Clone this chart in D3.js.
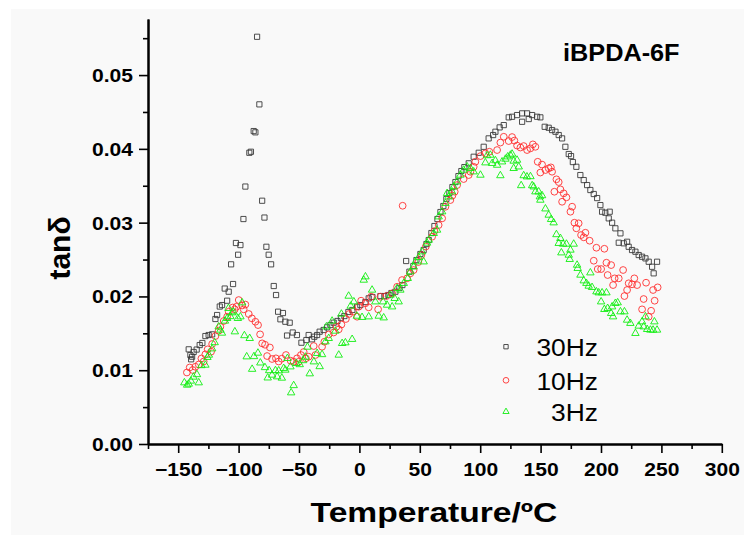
<!DOCTYPE html>
<html>
<head>
<meta charset="utf-8">
<script src="https://cdn.jsdelivr.net/npm/d3@7"></script>
<style>
  html, body { margin: 0; padding: 0; background: #fff; }
  svg text { font-family: "Liberation Sans", Arial, sans-serif; }
</style>
</head>
<body>
<svg id="chart" width="744" height="535"></svg>
<script>
// tan delta vs temperature, [T (ºC), tan δ]
const hz30 = [
  [-141.3,0.01283],[-139.9,0.01206],[-139.3,0.01148],[-138.5,0.01183],[-137.2,0.01247],[-134.7,0.01280],
  [-132.2,0.01341],[-130.0,0.01369],[-127.5,0.01463],[-124.8,0.01477],[-121.9,0.01486],[-119.2,0.01694],
  [-117.8,0.01748],[-115.6,0.01863],[-113.7,0.01883],[-111.5,0.02107],[-109.5,0.01942],[-108.2,0.02064],
  [-106.2,0.02435],[-104.6,0.02168],[-102.2,0.02724],[-100.4,0.02565],[-98.5,0.02696],[-96.0,0.03049],
  [-94.4,0.03489],[-91.1,0.03947],[-89.8,0.03961],[-87.5,0.04241],[-86.1,0.04224],[-84.7,0.05519],
  [-82.8,0.04603],[-80.5,0.03297],[-78.6,0.03069],[-77.0,0.02673],[-75.1,0.02565],[-73.1,0.02435],
  [-70.9,0.02141],[-69.0,0.02019],[-67.3,0.01793],[-65.4,0.01690],[-63.3,0.01775],[-61.3,0.01657],
  [-59.9,0.01470],[-57.7,0.01644],[-55.2,0.01511],[-51.7,0.01477],[-48.0,0.01373],[-43.9,0.01409],
  [-42.0,0.01477],[-39.2,0.01419],[-37.3,0.01454],[-35.0,0.01477],[-32.9,0.01522],[-29.6,0.01545],
  [-26.7,0.01581],[-24.0,0.01612],[-21.3,0.01644],[-18.2,0.01667],[-15.3,0.01707],[-12.4,0.01734],
  [-9.1,0.01789],[-5.8,0.01816],[-1.9,0.01860],[0.8,0.01883],[5.0,0.01924],[7.7,0.01974],
  [10.8,0.01992],[17.4,0.02005],[20.7,0.02005],[24.0,0.02019],[26.5,0.02046],[29.8,0.02064],
  [33.1,0.02114],[35.6,0.02154],[38.7,0.02480],[41.4,0.02335],[44.7,0.02412],[47.2,0.02493],
  [50.5,0.02575],[53.2,0.02629],[55.5,0.02710],[57.4,0.02764],[59.6,0.02859],[62.1,0.02954],
  [64.6,0.03049],[67.1,0.03144],[69.5,0.03225],[72.0,0.03320],[74.5,0.03401],[77.0,0.03482],
  [79.5,0.03550],[82.0,0.03631],[84.4,0.03699],[86.9,0.03753],[90.5,0.03804],[94.6,0.03893],
  [98.8,0.03947],[102.9,0.04028],[107.0,0.04142],[110.7,0.04187],[112.6,0.04232],[116.1,0.04291],
  [119.5,0.04322],[123.6,0.04427],[126.4,0.04435],[130.5,0.04458],[134.7,0.04481],[134.7,0.04367],
  [138.8,0.04481],[140.2,0.04404],[143.0,0.04458],[147.1,0.04435],[149.8,0.04427],[153.4,0.04299],
  [156.7,0.04286],[159.5,0.04255],[162.3,0.04232],[165.0,0.04187],[167.8,0.04142],[170.5,0.04028],
  [173.3,0.03930],[175.2,0.03902],[176.7,0.03821],[179.6,0.03757],[182.9,0.03645],[185.7,0.03577],
  [188.5,0.03509],[191.2,0.03442],[194.0,0.03388],[196.8,0.03333],[199.5,0.03238],[200.9,0.03148],
  [203.6,0.03134],[206.4,0.03058],[207.2,0.03148],[209.2,0.02999],[211.9,0.02923],[214.7,0.02728],
  [216.1,0.02855],[218.8,0.02720],[221.6,0.02741],[222.9,0.02673],[225.7,0.02629],[228.5,0.02606],
  [231.2,0.02561],[234.0,0.02538],[236.8,0.02516],[239.5,0.02470],[242.3,0.02402],[243.6,0.02313],
  [246.4,0.02470]
];

const hz10 = [
  [-142.8,0.00969],[-140.5,0.01037],[-138.0,0.01003],[-135.8,0.01047],[-133.0,0.01077],[-130.8,0.01159],
  [-128.9,0.01118],[-127.5,0.01215],[-125.6,0.01283],[-122.8,0.01251],[-121.9,0.01355],[-119.2,0.01463],
  [-116.5,0.01535],[-115.1,0.01589],[-112.3,0.01667],[-109.5,0.01725],[-108.2,0.01793],[-104.9,0.01850],
  [-103.2,0.01825],[-101.8,0.01860],[-99.9,0.01951],[-97.1,0.01877],[-95.8,0.01825],[-94.4,0.01890],
  [-91.6,0.01762],[-89.0,0.01703],[-86.1,0.01657],[-83.9,0.01612],[-82.2,0.01486],[-80.5,0.01364],
  [-78.1,0.01345],[-76.4,0.01192],[-74.1,0.01308],[-72.3,0.01152],[-69.1,0.01161],[-66.8,0.01118],
  [-64.3,0.01156],[-60.8,0.01206],[-56.9,0.01129],[-54.4,0.01115],[-51.6,0.01161],[-50.2,0.01115],
  [-48.4,0.01206],[-46.1,0.01247],[-44.3,0.01161],[-42.0,0.01183],[-37.8,0.01328],[-36.4,0.01206],
  [-30.9,0.01318],[-29.0,0.01386],[-25.4,0.01484],[-21.3,0.01511],[-19.0,0.01589],[-17.1,0.01554],
  [-14.9,0.01619],[-11.2,0.01694],[-8.5,0.01762],[-5.2,0.01795],[-1.9,0.01725],[-0.6,0.01860],
  [1.4,0.01942],[5.0,0.01907],[7.7,0.01852],[9.7,0.01996],[15.5,0.01825],[17.4,0.01996],
  [22.4,0.02005],[27.1,0.02042],[31.2,0.02131],[35.3,0.02222],[35.8,0.03229],[39.5,0.02245],
  [42.2,0.02313],[44.9,0.02358],[48.8,0.02466],[51.3,0.02561],[55.0,0.02676],[60.2,0.02809],
  [62.1,0.02886],[65.6,0.02967],[68.5,0.03058],[71.2,0.03215],[75.3,0.03306],[77.0,0.03367],
  [78.9,0.03419],[80.9,0.03509],[86.3,0.03591],[90.5,0.03645],[91.9,0.03690],[94.6,0.03757],
  [96.0,0.03825],[100.2,0.03902],[104.3,0.03939],[107.6,0.03961],[114.0,0.03984],[116.7,0.04085],
  [119.5,0.04164],[123.6,0.04106],[126.4,0.04160],[128.3,0.04112],[130.5,0.04045],[133.3,0.04018],
  [136.0,0.04038],[138.8,0.03984],[141.6,0.04007],[143.6,0.04061],[145.7,0.04028],[147.6,0.03825],
  [149.8,0.03679],[151.2,0.03787],[154.0,0.03713],[156.7,0.03736],[158.5,0.03749],[159.5,0.03690],
  [161.4,0.03419],[163.1,0.03587],[165.0,0.03550],[166.4,0.03451],[167.8,0.03283],[169.1,0.03397],
  [171.4,0.03343],[174.7,0.03148],[176.1,0.03216],[178.0,0.02999],[179.6,0.02923],[181.5,0.02991],
  [183.5,0.02832],[185.7,0.02801],[187.1,0.02863],[190.6,0.02755],[194.0,0.02484],[196.2,0.02660],
  [197.3,0.02371],[200.1,0.02371],[202.8,0.02646],[204.5,0.02457],[205.5,0.02290],[208.4,0.02425],
  [210.0,0.02154],[211.3,0.02245],[214.7,0.02245],[218.3,0.02358],[219.4,0.02005],[221.6,0.02087],
  [222.9,0.02178],[225.7,0.02164],[227.6,0.02245],[229.9,0.02154],[234.0,0.01825],[235.3,0.01965],
  [237.3,0.02186],[239.5,0.01725],[241.5,0.01806],[243.1,0.02087],[244.4,0.01942],[246.9,0.02123]
];

const hz3 = [
  [-144.9,0.00831],[-142.6,0.00799],[-141.3,0.00813],[-139.5,0.00854],[-137.4,0.00908],[-134.5,0.00942],
  [-133.0,0.00831],[-130.8,0.01064],[-127.5,0.01070],[-125.8,0.01175],[-124.6,0.01206],[-121.9,0.01291],
  [-119.8,0.01375],[-116.5,0.01589],[-115.1,0.01545],[-113.8,0.01504],[-111.3,0.01667],[-109.5,0.01703],
  [-108.4,0.01839],[-106.8,0.01728],[-105.4,0.01779],[-104.3,0.01793],[-103.1,0.01522],[-100.6,0.01703],
  [-98.5,0.01725],[-97.1,0.01915],[-95.2,0.01470],[-93.3,0.01183],[-90.8,0.01432],[-88.8,0.01014],
  [-87.3,0.01186],[-84.0,0.01233],[-82.0,0.01100],[-78.2,0.01037],[-75.9,0.00897],[-74.7,0.00996],
  [-72.3,0.00935],[-69.5,0.00996],[-68.1,0.00912],[-66.8,0.00993],[-64.2,0.00894],[-62.7,0.01026],
  [-61.3,0.01003],[-59.6,0.01161],[-57.1,0.01047],[-56.5,0.00695],[-54.4,0.00793],[-52.2,0.01093],
  [-49.4,0.01077],[-46.6,0.01131],[-44.7,0.01179],[-43.0,0.01314],[-41.1,0.00953],[-37.7,0.01115],
  [-35.0,0.01229],[-32.9,0.01050],[-30.9,0.01213],[-28.1,0.01386],[-27.3,0.01589],[-25.4,0.01432],
  [-22.6,0.01667],[-19.9,0.01531],[-17.1,0.01206],[-14.9,0.01762],[-14.3,0.01364],[-11.6,0.01373],
  [-8.9,0.02005],[-7.2,0.01870],[-6.0,0.01419],[-4.6,0.01928],[-2.1,0.01734],[2.2,0.01717],
  [3.6,0.02222],[5.0,0.02267],[7.7,0.01725],[10.5,0.02087],[13.2,0.01928],[16.0,0.01734],
  [19.6,0.01928],[20.1,0.01711],[22.9,0.01883],[25.7,0.02019],[27.1,0.01860],[29.2,0.01974],
  [31.2,0.02110],[32.5,0.01928],[33.9,0.02087],[36.7,0.02178],[40.0,0.02245],[42.2,0.02335],
  [44.9,0.02402],[46.4,0.02470],[49.1,0.02530],[51.9,0.02606],[53.2,0.02470],[56.0,0.02724],
  [57.4,0.02764],[61.5,0.02855],[64.3,0.02900],[65.6,0.03080],[68.5,0.03148],[71.2,0.03262],
  [72.6,0.03397],[73.9,0.03351],[76.7,0.03419],[78.1,0.03486],[80.9,0.03554],[83.6,0.03645],
  [86.3,0.03713],[89.2,0.03757],[91.9,0.03736],[94.6,0.03690],[100.2,0.03645],[104.3,0.03812],
  [105.7,0.03909],[108.4,0.03916],[109.9,0.03804],[112.6,0.03841],[114.0,0.03780],[116.7,0.03638],
  [118.1,0.03825],[120.9,0.03862],[122.8,0.03893],[125.0,0.03916],[126.4,0.03930],[127.7,0.03835],
  [127.7,0.03736],[130.5,0.03848],[131.9,0.03757],[133.9,0.03503],[136.0,0.03638],[138.7,0.03622],
  [141.6,0.03625],[143.0,0.03503],[144.3,0.03486],[145.7,0.03419],[148.4,0.03419],[149.4,0.03351],
  [149.8,0.03306],[151.2,0.03367],[154.0,0.03188],[156.7,0.03103],[158.7,0.03045],[160.8,0.02999],
  [163.1,0.02839],[165.0,0.02720],[166.4,0.02787],[167.2,0.02592],[168.6,0.02710],[171.4,0.02710],
  [173.3,0.02561],[174.1,0.02503],[174.7,0.02629],[177.4,0.02710],[180.2,0.02425],[180.7,0.02381],
  [183.0,0.02290],[185.7,0.02213],[187.9,0.02178],[189.8,0.02141],[191.2,0.02321],[192.6,0.02123],
  [196.2,0.02064],[198.1,0.02050],[200.1,0.01928],[200.9,0.02050],[202.8,0.01825],[204.5,0.02050],
  [205.5,0.01839],[208.4,0.01771],[209.2,0.01860],[210.0,0.01725],[211.9,0.01907],[213.8,0.01915],
  [216.1,0.01793],[219.4,0.01793],[221.6,0.01680],[224.3,0.01636],[228.5,0.01500],[231.2,0.01599],
  [234.0,0.01657],[235.3,0.01589],[236.8,0.01725],[238.2,0.01554],[240.9,0.01545],[243.1,0.01545],
  [244.2,0.01657],[246.4,0.01545]
];

const xTicks = [-150, -100, -50, 0, 50, 100, 150, 200, 250, 300];
const xMinor = [-175, -125, -75, -25, 25, 75, 125, 175, 225, 275];
const yTicks = [0, 0.01, 0.02, 0.03, 0.04, 0.05];
const yMinor = [0.005, 0.015, 0.025, 0.035, 0.045, 0.055];
const legendLabels = ["30Hz", "10Hz", "3Hz"];

const svg = d3.select("#chart");
const stretch = 1.17; // text in the picture is a bit wider than tall

// pale panel behind everything
svg.append("rect")
  .attr("x", 11).attr("y", 9)
  .attr("width", 744 - 11).attr("height", 535 - 9)
  .attr("fill", "#f9f9f9");

const x = d3.scaleLinear().domain([-175, 300]).range([148, 721.8]);
const y = d3.scaleLinear().domain([0, 0.0576]).range([444, 19]);

// series styles
const series = [
  { name: legendLabels[0], data: hz30, type: d3.symbolSquare, size: 27, color: "#3a3a3a" },
  { name: legendLabels[1], data: hz10, type: d3.symbolCircle, size: 36, color: "#ff3030" },
  { name: legendLabels[2], data: hz3, type: d3.symbolTriangle, size: 24, color: "#11ee11" }
];

const plot = svg.append("g");
series.forEach(s => {
  plot.append("g")
    .selectAll("path")
    .data(s.data)
    .enter()
    .append("path")
    .attr("d", d3.symbol().type(s.type).size(s.size))
    .attr("transform", d => `translate(${x(d[0])},${y(d[1])})`)
    .attr("fill", "none")
    .attr("stroke", s.color)
    .attr("stroke-width", 0.9);
});

function styleAxis(g) {
  g.select(".domain").attr("stroke", "#000").attr("stroke-width", 2);
  g.selectAll(".tick line").attr("stroke", "#000").attr("stroke-width", 1.6);
}

// X axis: minor then major
svg.append("g")
  .attr("transform", "translate(0,444)")
  .call(d3.axisBottom(x).tickValues(xMinor).tickSize(5).tickSizeOuter(0).tickFormat(""))
  .call(styleAxis);

const xAxis = svg.append("g")
  .attr("transform", "translate(0,444)")
  .call(d3.axisBottom(x).tickValues(xTicks).tickSize(9).tickSizeOuter(0).tickFormat(d3.format("d")))
  .call(styleAxis);
xAxis.selectAll(".tick text")
  .attr("y", 32).attr("dy", null)
  .attr("transform", `scale(${stretch},1)`)
  .attr("fill", "#000")
  .style("font-size", "18px").style("font-weight", "bold")
  .style("font-family", '"Liberation Sans", Arial, sans-serif');

// Y axis: minor then major
svg.append("g")
  .attr("transform", "translate(148,0)")
  .call(d3.axisLeft(y).tickValues(yMinor).tickSize(5).tickSizeOuter(0).tickFormat(""))
  .call(styleAxis);

const yAxis = svg.append("g")
  .attr("transform", "translate(148,0)")
  .call(d3.axisLeft(y).tickValues(yTicks).tickSize(9).tickSizeOuter(0).tickFormat(d3.format(".2f")))
  .call(styleAxis);
yAxis.selectAll(".tick text")
  .attr("x", -15 / stretch).attr("dy", "0.36em")
  .attr("transform", `scale(${stretch},1)`)
  .attr("fill", "#000")
  .style("font-size", "18px").style("font-weight", "bold")
  .style("font-family", '"Liberation Sans", Arial, sans-serif');

// axis titles
svg.append("text")
  .attr("transform", `translate(434,522) scale(1.2,1)`)
  .attr("text-anchor", "middle")
  .style("font-size", "28px").style("font-weight", "bold")
  .text("Temperature/ºC");

svg.append("text")
  .attr("transform", "translate(70,248) rotate(-90)")
  .attr("text-anchor", "middle")
  .style("font-size", "30px").style("font-weight", "bold")
  .text("tanδ");

// sample name
svg.append("text")
  .attr("transform", "translate(563,60.5) scale(1.1,1)")
  .style("font-size", "23px").style("font-weight", "bold")
  .text("iBPDA-6F");

// legend
const legendY = [346.7, 380.3, 411.7];
const legend = svg.append("g");
series.forEach((s, i) => {
  legend.append("path")
    .attr("d", d3.symbol().type(s.type).size(s.size * 0.7))
    .attr("transform", `translate(506,${legendY[i]})`)
    .attr("fill", "none")
    .attr("stroke", s.color)
    .attr("stroke-width", 0.9);
  legend.append("text")
    .attr("transform", `translate(598,${legendY[i] + 9.3}) scale(1.1,1)`)
    .attr("text-anchor", "end")
    .style("font-size", "24px")
    .text(s.name);
});
</script>
</body>
</html>
